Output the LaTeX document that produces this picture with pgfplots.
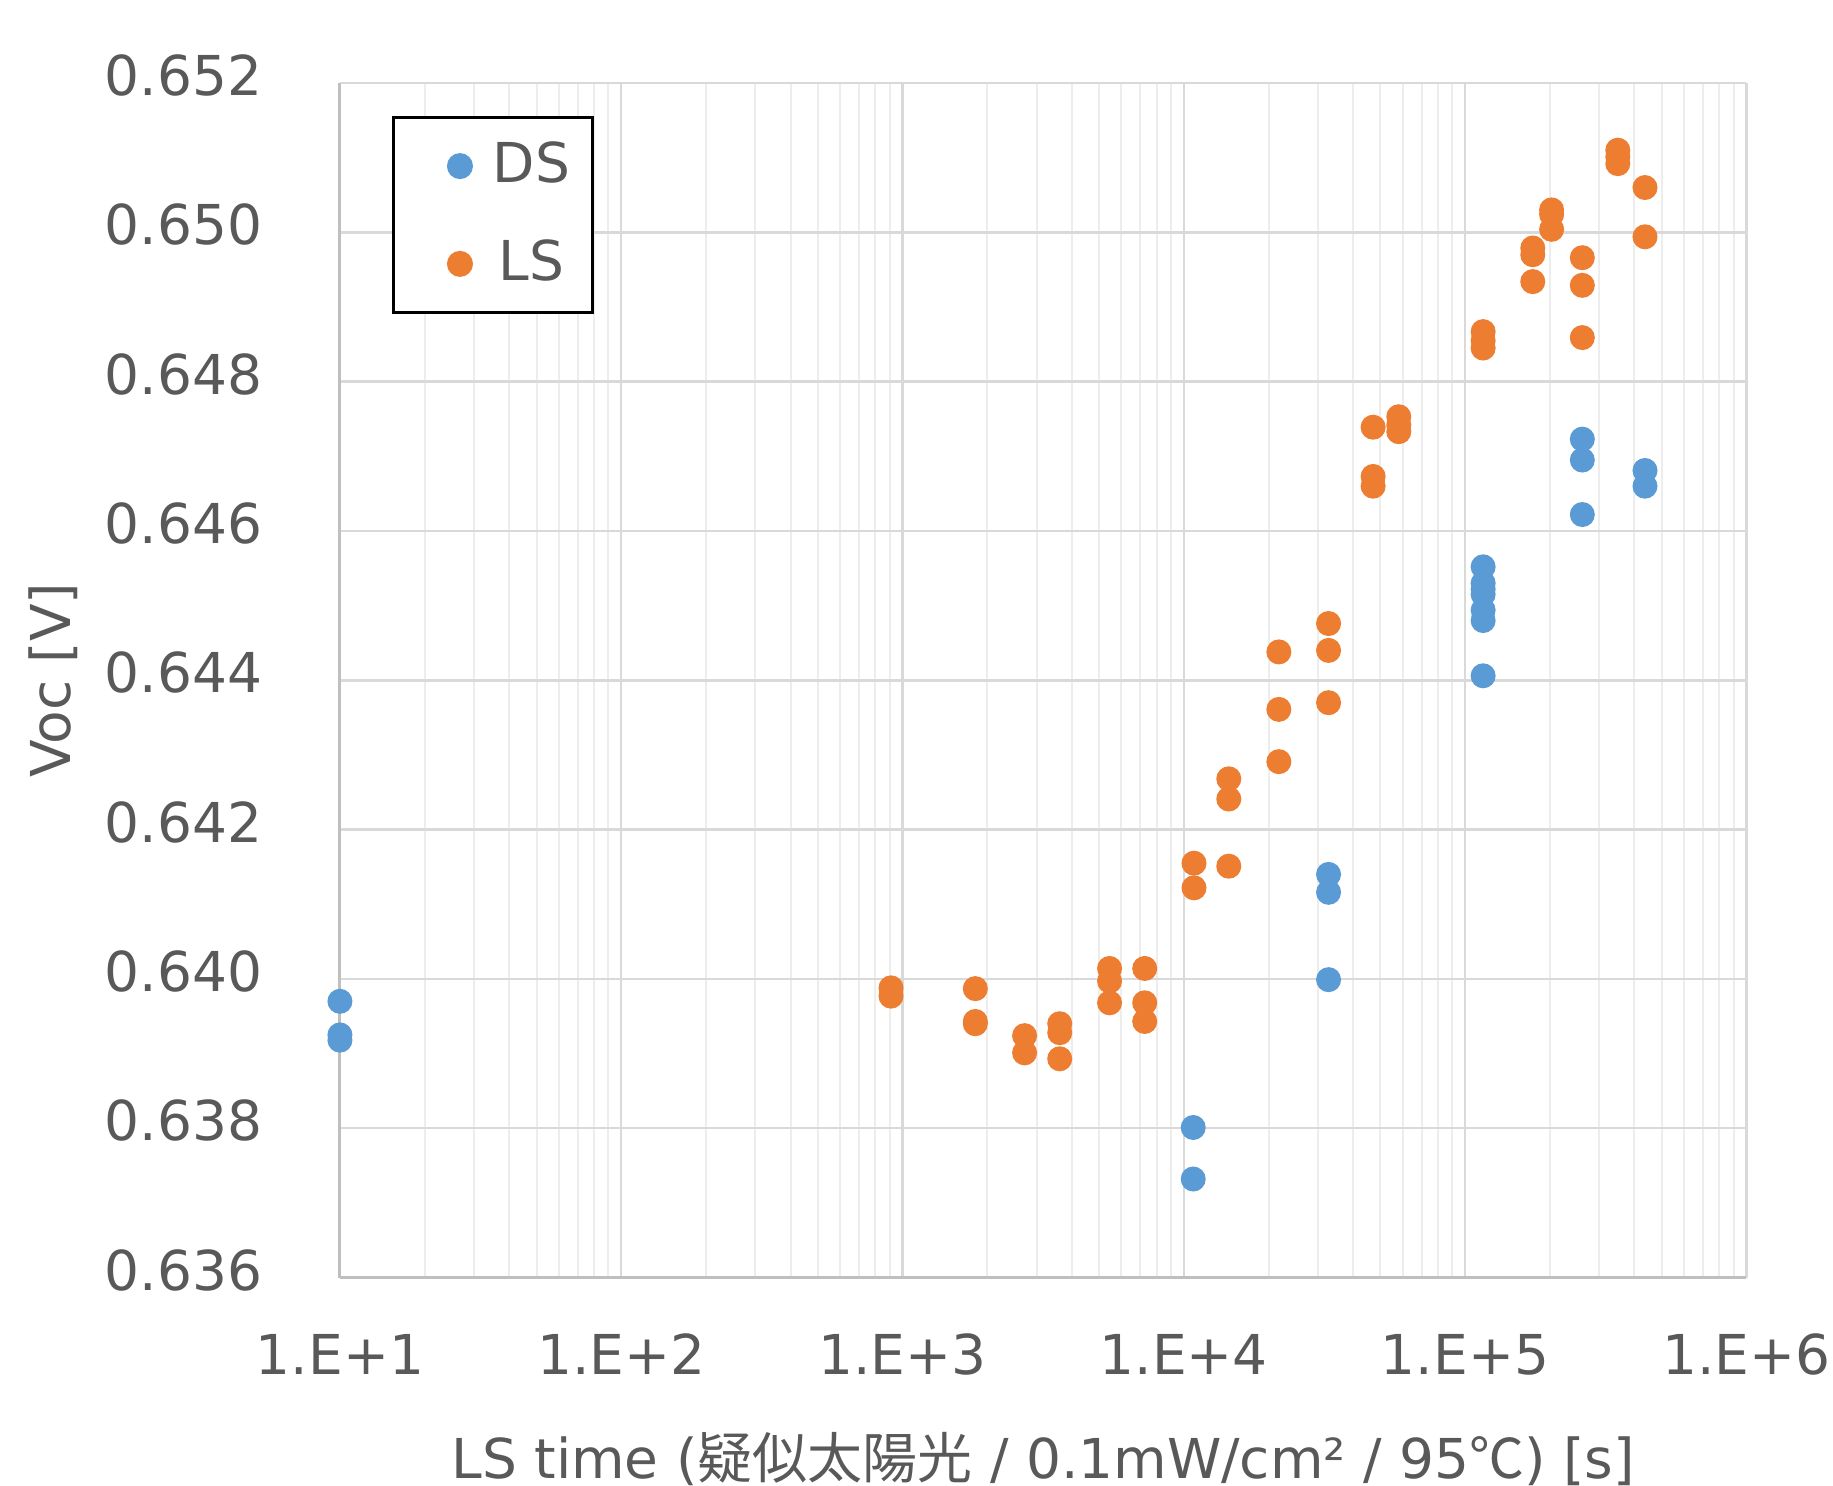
\documentclass[border=0pt]{standalone}
\usepackage{pgfplots}
\pgfplotsset{compat=1.18}
\usepackage{fontspec}
\setmainfont{DejaVu Sans}
\newfontfamily\cjk{Noto Sans CJK JP}
\definecolor{dsblue}{HTML}{5B9BD5}
\definecolor{lsorange}{HTML}{ED7D31}
\definecolor{txtgray}{HTML}{595959}
\definecolor{majgrid}{HTML}{D9D9D9}
\definecolor{mingrid}{HTML}{EDEDED}
\definecolor{axgray}{HTML}{BFBFBF}
\newcommand{\lblfont}{\fontsize{11}{13}\selectfont}
\begin{document}
\begin{tikzpicture}
\begin{axis}[
  scale only axis, width=281.4pt, height=239pt,
  clip=false,
  xmode=log, xmin=10, xmax=1e6, ymin=0.636, ymax=0.652,
  xtick={10,100,1000,10000,100000,1000000},
  xticklabels={1.E+1,1.E+2,1.E+3,1.E+4,1.E+5,1.E+6},
  ytick={0.636,0.638,0.640,0.642,0.644,0.646,0.648,0.650,0.652},
  yticklabels={0.636,0.638,0.640,0.642,0.644,0.646,0.648,0.650,0.652},
  grid=both,
  major grid style={draw=majgrid, line width=0.5pt},
  minor grid style={draw=mingrid, line width=0.4pt},
  axis lines=left, axis line style={draw=axgray, line width=0.6pt, -},
  major tick length=0pt, minor tick length=0pt,
  tick label style={font=\lblfont, text=txtgray},
  xticklabel style={inner sep=0.5pt},
  xticklabel shift=10.6pt,
  yticklabel shift=12pt,
  yticklabel style={yshift=1.5pt},
  xlabel={LS time ({\cjk 疑似太陽光} / 0.1mW/cm² / 95{\cjk ℃}) [s]},
  ylabel={Voc [V]},
  label style={font=\lblfont, text=txtgray},
  xlabel style={at={(axis description cs:0.5,-0.152)}, anchor=center, inner sep=0pt},
  ylabel style={at={(axis description cs:-0.204,0.5)}, anchor=center, inner sep=0pt},
  legend style={at={(0.037,0.972)}, anchor=north west, draw=black, line width=0.6pt,
    inner xsep=2.5pt, inner ysep=2.8pt, row sep=5.9pt, font=\lblfont, text=txtgray},
  legend image code/.code={\path (-10.5pt,0cm) (4.3pt,0cm); \draw[mark repeat=1,mark phase=1,#1] plot coordinates {(0cm,0cm)};},
]
\addplot[only marks, mark=*, mark size=2.3pt, color=dsblue] coordinates {
(10,0.63970) (10,0.63925) (10,0.63918)
(10800,0.63801) (10800,0.63732)
(32700,0.64140) (32700,0.64116) (32700,0.63999)
(115900,0.64552) (115900,0.64530) (115900,0.64522) (115900,0.64515) (115900,0.64494) (115900,0.64480) (115900,0.64406)
(261000,0.64723) (261000,0.64695) (261000,0.64622)
(436000,0.64681) (436000,0.64660)
};
\addlegendentry{DS}
\addplot[only marks, mark=*, mark size=2.3pt, color=lsorange] coordinates {
(910,0.63988) (910,0.63977)
(1815,0.63987) (1815,0.63943) (1815,0.63940)
(2716,0.63924) (2716,0.63901)
(3622,0.63940) (3622,0.63928) (3622,0.63893)
(5445,0.64014) (5445,0.63997) (5445,0.63968)
(7261,0.64014) (7261,0.63968) (7261,0.63943)
(10870,0.64155) (10870,0.64122)
(14450,0.64268) (14450,0.64241) (14450,0.64151)
(21770,0.64438) (21770,0.64361) (21770,0.64291)
(32700,0.64476) (32700,0.64440) (32700,0.64370)
(47100,0.64739) (47100,0.64673) (47100,0.64660)
(58100,0.64753) (58100,0.64742) (58100,0.64733)
(115900,0.64867) (115900,0.64855) (115900,0.64845)
(174000,0.64979) (174000,0.64970) (174000,0.64934)
(203000,0.65030) (203000,0.65024) (203000,0.65004)
(261000,0.64966) (261000,0.64929) (261000,0.64859)
(349000,0.65110) (349000,0.65101) (349000,0.65092)
(436000,0.65060) (436000,0.64994)
};
\addlegendentry{LS}
\path (rel axis cs:-0.2417,-0.1732) rectangle (rel axis cs:1.0611,1.0695);
\end{axis}
\end{tikzpicture}
\end{document}
